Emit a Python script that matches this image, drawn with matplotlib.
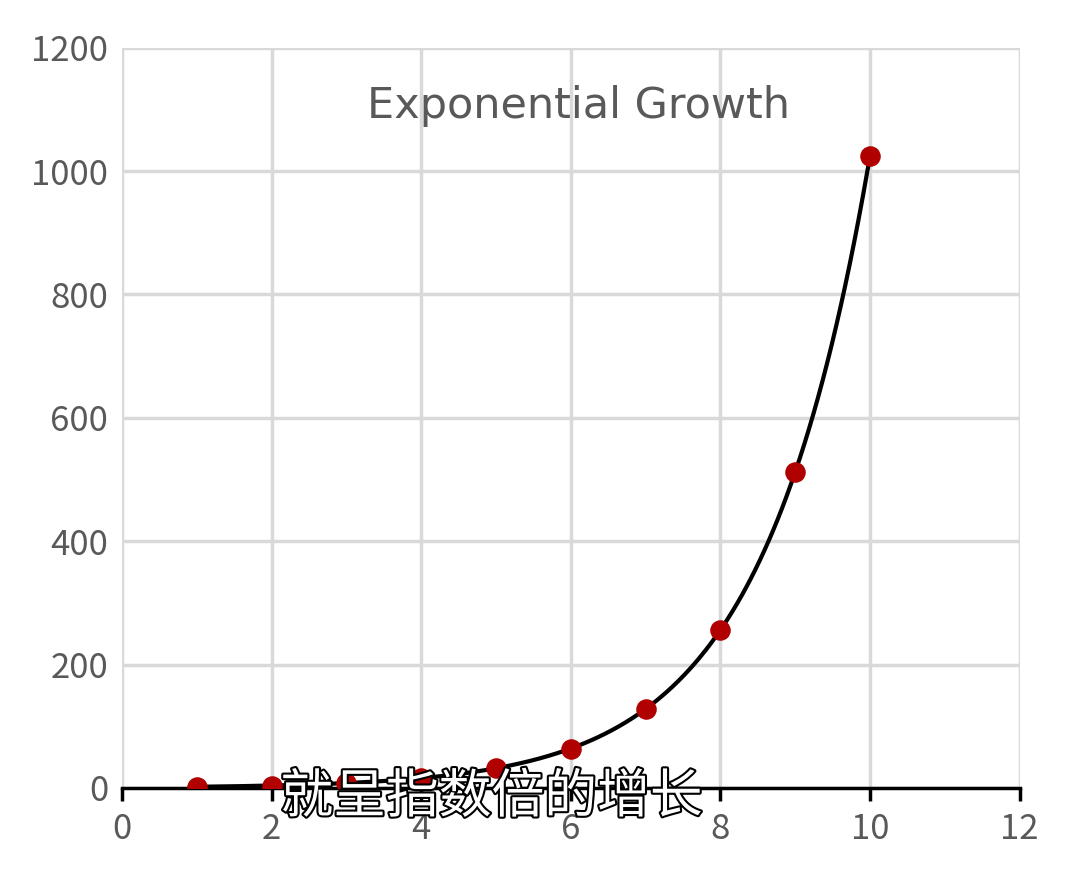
import numpy as np
import matplotlib.pyplot as plt
import matplotlib.patheffects as pe

plt.rcParams['font.family'] = ['Noto Sans CJK SC', 'DejaVu Sans']

# 数据
x_vals = [1, 2, 3, 4, 5, 6, 7, 8, 9, 10]
y_vals = [2, 4, 8, 16, 32, 64, 128, 256, 512, 1024]
title = 'Exponential Growth'
subtitle = '就呈指数倍的增长'

fig = plt.figure(figsize=(10.8, 8.71), dpi=100)
ax = fig.add_axes([0.113, 0.0953, 0.831, 0.85])

# smooth curve: interpolate points in log space
xs = np.linspace(x_vals[0], x_vals[-1], 300)
ys = np.exp(np.interp(xs, x_vals, np.log(y_vals)))
ax.plot(xs, ys, color='black', lw=3, zorder=3)
ax.scatter(x_vals, y_vals, s=190, color='#b00000', zorder=4)

ax.set_xlim(0, 12)
ax.set_ylim(0, 1200)
ax.set_xticks(range(0, 13, 2))
ax.set_yticks(range(0, 1201, 200))
ax.grid(True, color='#d9d9d9', lw=2.5)
ax.set_axisbelow(True)
for s in ['top', 'right', 'left']:
    ax.spines[s].set_visible(False)
ax.spines['bottom'].set_color('black')
ax.spines['bottom'].set_linewidth(2.5)
ax.tick_params(axis='x', length=9, width=2.5, color='black', labelsize=25,
               labelcolor='#595959', pad=8)
ax.tick_params(axis='y', length=0, labelsize=25, labelcolor='#595959', pad=10)

ax.text(6.1, 1105, title, ha='center', va='center', fontsize=31,
        color='#595959', family=['DejaVu Sans'])

t = fig.text(0.455, 0.085, subtitle, ha='center', va='center', fontsize=38,
             color='white', zorder=10)
t.set_path_effects([pe.withStroke(linewidth=3, foreground='black')])

fig.savefig('out.png')
